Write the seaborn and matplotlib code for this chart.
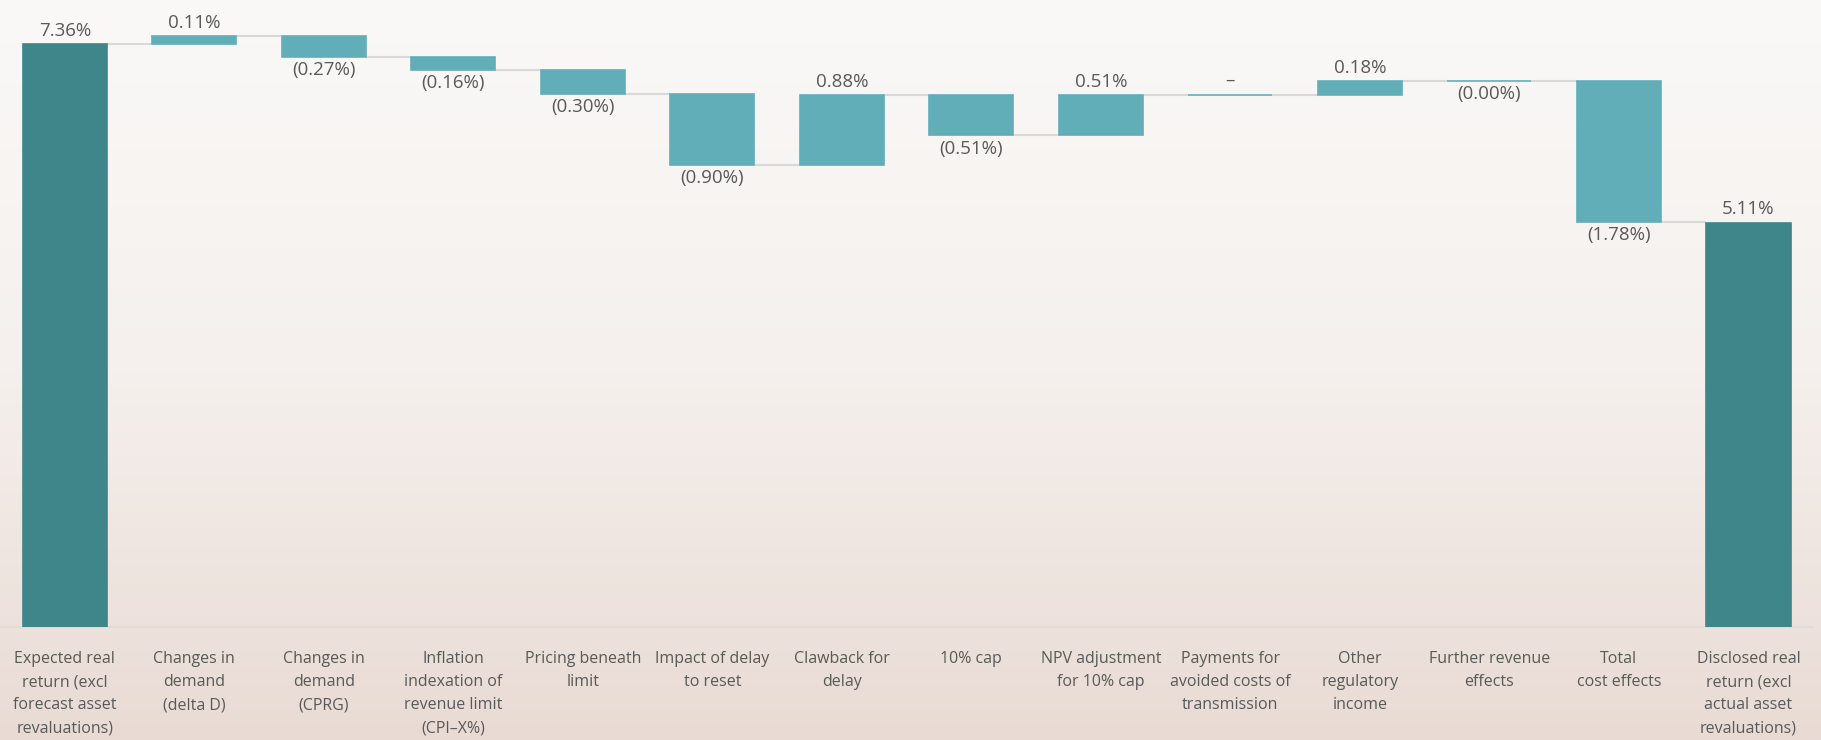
import numpy as np
import pandas as pd
import matplotlib
matplotlib.use("Agg")
import matplotlib.pyplot as plt
from matplotlib.colors import LinearSegmentedColormap
import seaborn as sns

# Return bridge: expected real return -> disclosed real return (percentage points)
categories = [
    "Expected real\nreturn (excl\nforecast asset\nrevaluations)",
    "Changes in\ndemand\n(delta D)",
    "Changes in\ndemand\n(CPRG)",
    "Inflation\nindexation of\nrevenue limit\n(CPI\u2013X%)",
    "Pricing beneath\nlimit",
    "Impact of delay\nto reset",
    "Clawback for\ndelay",
    "10% cap",
    "NPV adjustment\nfor 10% cap",
    "Payments for\navoided costs of\ntransmission",
    "Other\nregulatory\nincome",
    "Further revenue\neffects",
    "Total\ncost effects",
    "Disclosed real\nreturn (excl\nactual asset\nrevaluations)",
]
values = [7.36, 0.11, -0.27, -0.16, -0.30, -0.90, 0.88, -0.51, 0.51, 0.0, 0.18, -0.004, -1.78, 5.11]
is_total = [True] + [False] * 12 + [True]

TOTAL_COLOR = "#3e868a"
STEP_COLOR = "#62aeb8"
CONNECTOR_COLOR = "#d9d9d9"
TEXT_COLOR = "#595959"

sns.set_theme(style="white")
plt.rcParams["font.family"] = ["Open Sans", "DejaVu Sans"]

# Floating bar geometry from the running total
bottoms, heights, levels = [], [], []
running = 0.0
for v, tot in zip(values, is_total):
    if tot:
        bottoms.append(0.0)
        heights.append(v)
        running = v
    else:
        new = running + v
        bottoms.append(min(running, new))
        heights.append(abs(v))
        running = new
    levels.append(running)

df = pd.DataFrame({"category": categories, "height": heights})

fig = plt.figure(figsize=(18.21, 7.4), dpi=100)

# soft vertical background gradient
bg = fig.add_axes([0, 0, 1, 1], zorder=0)
cmap = LinearSegmentedColormap.from_list(
    "bg", [(0.0, "#faf9f8"), (0.5, "#f5f0ed"), (1.0, "#e9dbd4")])
bg.imshow(np.linspace(0, 1, 256).reshape(-1, 1), aspect="auto", cmap=cmap,
          extent=[0, 1, 0, 1], origin="upper")
bg.axis("off")

ax = fig.add_axes([0.0, 0.1527, 0.9957, 0.845], zorder=1)
ax.patch.set_alpha(0)

bar_w = 0.65
sns.barplot(data=df, x="category", y="height", order=categories,
            width=bar_w, color=STEP_COLOR, saturation=1, ax=ax, zorder=3)

for patch, b, tot in zip(ax.patches, bottoms, is_total):
    col = TOTAL_COLOR if tot else STEP_COLOR
    patch.set_y(b)
    patch.set_facecolor(col)
    patch.set_edgecolor(col)
    patch.set_linewidth(1.2)

# connectors between consecutive bars
for i in range(len(values) - 1):
    ax.plot([i + bar_w / 2, i + 1 - bar_w / 2], [levels[i], levels[i]],
            color=CONNECTOR_COLOR, lw=1.5, zorder=2, solid_capstyle="butt")

# value labels
for i, (v, tot) in enumerate(zip(values, is_total)):
    top = bottoms[i] + heights[i]
    if tot or v > 0:
        txt, y, dy, va = f"{v:.2f}%", top, 3, "bottom"
    elif v == 0:
        txt, y, dy, va = "\u2013", top, 4, "bottom"
    else:
        txt, y, dy, va = f"({abs(v):.2f}%)", bottoms[i], -3, "top"
    ax.annotate(txt, (i, y), xytext=(0, dy), textcoords="offset points",
                ha="center", va=va, fontsize=13.5, color=TEXT_COLOR)

ax.set_ylim(0, 7.9)
ax.set_xlim(-0.5, len(values) - 0.5)
ax.set_xlabel("")
ax.set_ylabel("")
ax.set_yticks([])
ax.tick_params(axis="x", length=0, pad=17, labelsize=11.5, labelcolor=TEXT_COLOR)
for lab in ax.get_xticklabels():
    lab.set_linespacing(1.62)
    lab.set_verticalalignment("top")
for side in ["top", "right", "left"]:
    ax.spines[side].set_visible(False)
ax.spines["bottom"].set_color("#dddddd")
ax.spines["bottom"].set_linewidth(1.2)

fig.savefig("out.png", dpi=100)
